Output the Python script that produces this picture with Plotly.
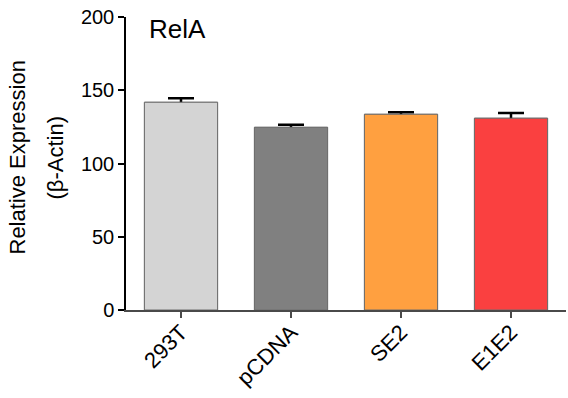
import plotly.graph_objects as go

# Relative RelA expression normalised to beta-actin
groups = ["293T", "pCDNA", "SE2", "E1E2"]
means = [141.8, 124.7, 133.6, 130.9]
errors = [2.7, 1.8, 1.3, 3.6]
colors = ["#d4d4d4", "#808080", "#ffa040", "#fa4040"]
y_ticks = [0, 50, 100, 150, 200]

FONT = "Liberation Sans, Arial, sans-serif"
BAR_WIDTH = 0.665
BAR_LINE = dict(color="#6e6e6e", width=1)

fig = go.Figure()
# SEM bars drawn first; the lower half is hidden by the opaque bars on top
fig.add_trace(go.Bar(
    x=groups,
    y=means,
    width=BAR_WIDTH,
    marker=dict(color=colors, line=BAR_LINE),
    error_y=dict(
        type="data",
        array=errors,
        color="black",
        thickness=2.5,
        width=13,
    ),
    hoverinfo="skip",
))
fig.add_trace(go.Bar(
    x=groups,
    y=means,
    width=BAR_WIDTH,
    marker=dict(color=colors, line=BAR_LINE),
))

fig.update_layout(
    width=568,
    height=398,
    margin=dict(l=126, r=2, t=17, b=88),
    plot_bgcolor="white",
    paper_bgcolor="white",
    showlegend=False,
    barmode="overlay",
    font=dict(family=FONT, color="black"),
)

fig.update_xaxes(
    range=[-0.5, 3.5],
    automargin=False,
    showline=True,
    linecolor="#4a4a4a",
    linewidth=1.5,
    ticks="outside",
    ticklen=6,
    tickwidth=1.5,
    tickcolor="#4a4a4a",
    tickangle=-45,
    ticklabelstandoff=-7,
    tickfont=dict(size=22, family=FONT, color="black"),
    showgrid=False,
    zeroline=False,
)

fig.update_yaxes(
    range=[0, 200],
    automargin=False,
    tickvals=y_ticks,
    showline=True,
    linecolor="black",
    linewidth=1.5,
    ticks="outside",
    ticklen=6,
    tickwidth=1.5,
    tickcolor="black",
    tickfont=dict(size=20, family=FONT, color="black"),
    showgrid=False,
    zeroline=False,
)

# Panel label
fig.add_annotation(
    text="RelA", xref="paper", yref="paper", x=0.0477, y=1,
    xanchor="left", yanchor="top", yshift=5, showarrow=False,
    font=dict(size=26, family=FONT, color="black"),
)

# Two-line y-axis title
fig.add_annotation(
    text="Relative Expression", xref="paper", yref="paper", x=0, y=0.5,
    xanchor="center", yanchor="middle", xshift=-109, yshift=6,
    textangle=-90, showarrow=False,
    font=dict(size=22, family=FONT, color="black"),
)
fig.add_annotation(
    text="(β-Actin)", xref="paper", yref="paper", x=0, y=0.5,
    xanchor="center", yanchor="middle", xshift=-71, yshift=6,
    textangle=-90, showarrow=False,
    font=dict(size=22, family=FONT, color="black"),
)

fig.write_html("out.html")
